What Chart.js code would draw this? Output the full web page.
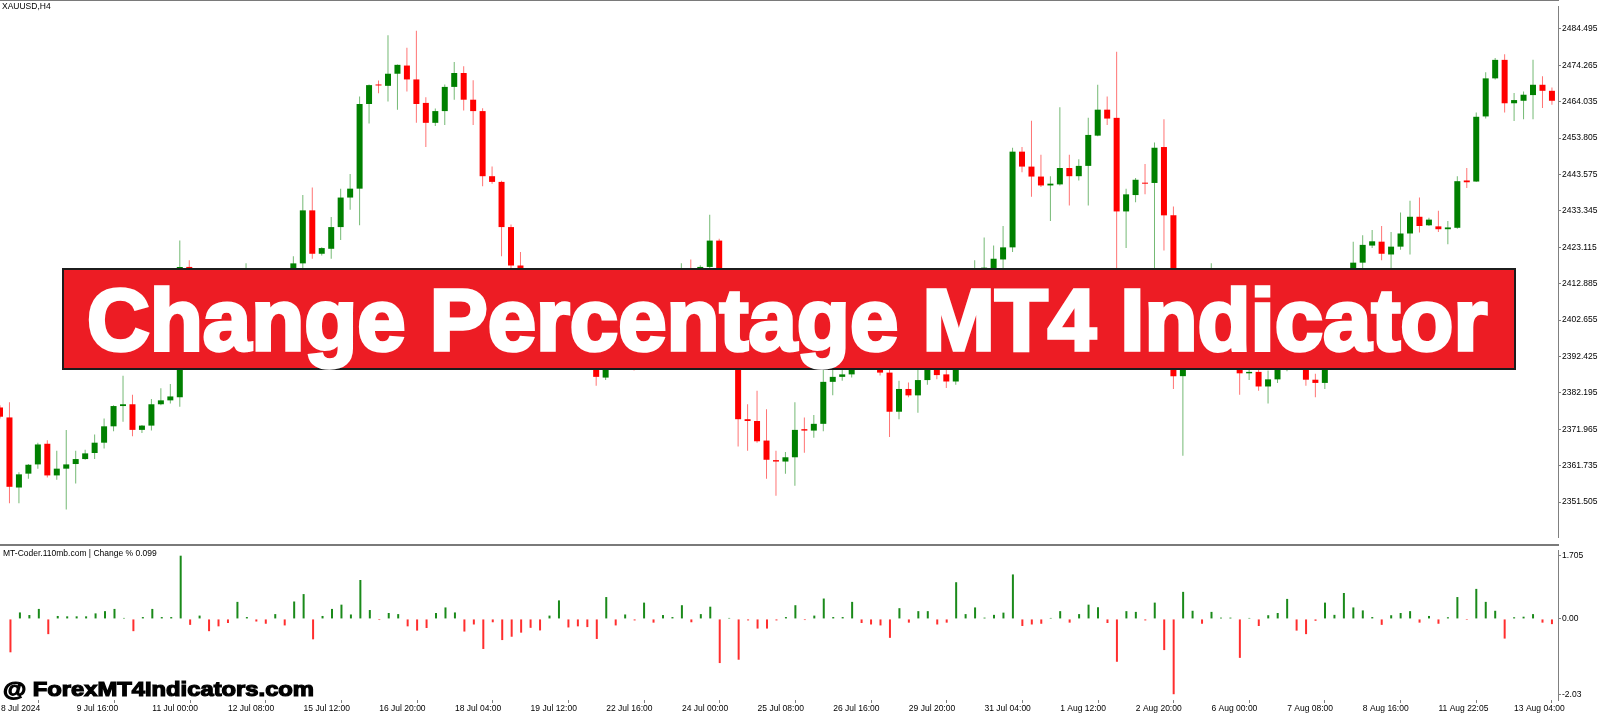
<!DOCTYPE html>
<html>
<head>
<meta charset="utf-8">
<script src="https://cdn.jsdelivr.net/npm/chart.js@4.4.1/dist/chart.umd.min.js"></script>
<style>
  body { margin: 0; width: 1600px; height: 716px; background: #fff; position: relative; overflow: hidden; font-family: "Liberation Sans", Arial, sans-serif; }
  canvas { position: absolute; left: 0; }
  #price { top: 0; }
  #chg { top: 544px; }
  .line { position: absolute; background: #7a7a7a; }
  .small { position: absolute; font-size: 8.5px; line-height: 1; color: #000; white-space: nowrap; }
  #banner { position: absolute; left: 62px; top: 268px; width: 1454px; height: 102px; box-sizing: border-box;
            background: #ed1c24; border: 2px solid #1c1c1c; }
  #bannerText { position: absolute; top: 0; left: 0; color: #fff; font-weight: bold; line-height: 1; white-space: nowrap;
                -webkit-text-stroke: 3.5px #fff; }
  #mark { position: absolute; left: 3px; top: 679px; font-size: 20px; font-weight: bold; line-height: 1; color: #000;
          -webkit-text-stroke: 1.2px #000; white-space: nowrap; transform-origin: 0 0; }
</style>
</head>
<body>
<canvas id="price" width="1600" height="544"></canvas>
<canvas id="chg" width="1600" height="172"></canvas>
<div class="line" style="left:0;top:0;width:1559px;height:1px"></div>
<div class="line" style="left:0;top:544px;width:1559px;height:2px"></div>
<div class="small" style="left:2px;top:2px">XAUUSD,H4</div>
<div class="small" style="left:3px;top:549px">MT-Coder.110mb.com | Change % 0.099</div>
<div id="banner"></div>
<div id="bannerText">Change Percentage MT4 Indicator</div>
<div id="mark">@ ForexMT4Indicators.com</div>
<script>
// XAUUSD H4 candles (index 0 = 8 Jul 2024)
const opens = [
  2378.1, 2375.3, 2355.6, 2359.5, 2362.1, 2367.9, 2359.0, 2360.9, 2362.2, 2363.6,
  2365.3, 2368.2, 2372.8, 2378.5, 2379.0, 2371.8, 2373.0, 2379.0, 2380.1, 2381.0,
  2417.6, 2414.1, 2416.1, 2408.8, 2404.4, 2402.0, 2412.1, 2413.2, 2411.7, 2408.8,
  2411.7, 2408.2, 2418.6, 2433.5, 2421.3, 2422.7, 2428.8, 2437.1, 2439.6, 2463.4,
  2468.7, 2468.5, 2471.9, 2474.2, 2470.3, 2463.7, 2458.1, 2461.4, 2468.2, 2472.1,
  2464.6, 2461.4, 2443.1, 2441.5, 2428.8, 2418.0, 2409.9, 2404.6, 2398.8, 2400.8,
  2411.8, 2406.7, 2402.3, 2398.5, 2386.5, 2399.4, 2395.5, 2398.1, 2397.2, 2406.9,
  2404.7, 2407.0, 2408.1, 2416.3, 2414.7, 2417.6, 2425.0, 2398.6, 2399.0, 2374.8,
  2374.3, 2368.8, 2363.3, 2362.9, 2364.1, 2372.0, 2371.6, 2373.5, 2385.3, 2386.7,
  2387.4, 2397.5, 2395.1, 2391.8, 2387.9, 2376.9, 2383.3, 2381.5, 2385.8, 2390.4,
  2387.4, 2385.4, 2407.1, 2410.0, 2416.6, 2417.2, 2419.7, 2423.1, 2450.0, 2445.8,
  2443.0, 2440.5, 2440.8, 2445.4, 2443.1, 2446.0, 2454.5, 2461.8, 2459.5, 2433.2,
  2437.8, 2441.2, 2441.2, 2451.3, 2432.1, 2386.9, 2402.9, 2407.8, 2404.9, 2409.1,
  2409.9, 2410.7, 2387.7, 2388.1, 2384.0, 2386.0, 2389.5, 2401.4, 2394.5, 2385.9,
  2385.0, 2394.7, 2397.1, 2412.2, 2418.8, 2423.6, 2424.7, 2421.1, 2423.3, 2427.0,
  2431.7, 2429.3, 2429.0, 2428.2, 2428.6, 2441.9, 2441.6, 2459.9, 2470.6, 2475.8,
  2463.6, 2464.3, 2465.9, 2468.8, 2467.1
];
const highs = [
  2378.7, 2379.6, 2359.9, 2362.2, 2368.2, 2368.9, 2365.9, 2371.8, 2365.9, 2366.2,
  2370.5, 2375.0, 2378.7, 2387.0, 2381.7, 2373.2, 2380.5, 2383.5, 2384.7, 2425.0,
  2419.5, 2417.0, 2416.8, 2410.2, 2406.5, 2414.5, 2418.6, 2415.5, 2413.0, 2413.8,
  2413.2, 2420.6, 2437.8, 2439.9, 2423.1, 2431.6, 2439.6, 2443.7, 2465.5, 2468.9,
  2470.0, 2482.7, 2474.5, 2479.2, 2484.0, 2465.3, 2462.1, 2468.9, 2475.2, 2474.0,
  2470.1, 2462.2, 2445.8, 2441.8, 2429.5, 2421.8, 2411.5, 2406.0, 2402.0, 2413.0,
  2413.0, 2408.0, 2403.5, 2399.5, 2401.5, 2401.0, 2400.0, 2399.5, 2409.0, 2408.5,
  2409.5, 2410.5, 2418.6, 2419.7, 2418.1, 2432.3, 2425.5, 2402.5, 2401.5, 2379.0,
  2382.8, 2377.6, 2365.9, 2365.6, 2379.6, 2375.3, 2376.0, 2389.3, 2390.5, 2389.8,
  2400.0, 2398.5, 2397.0, 2393.5, 2391.0, 2385.6, 2385.1, 2390.5, 2393.0, 2392.0,
  2389.5, 2409.5, 2412.5, 2419.5, 2425.9, 2423.6, 2429.1, 2451.1, 2451.3, 2458.7,
  2449.1, 2443.1, 2462.5, 2449.1, 2447.9, 2459.5, 2468.8, 2465.5, 2478.1, 2439.6,
  2442.6, 2446.5, 2452.6, 2459.1, 2434.6, 2406.0, 2411.0, 2410.0, 2418.6, 2412.0,
  2413.0, 2412.5, 2390.0, 2390.2, 2388.5, 2391.5, 2404.0, 2403.0, 2396.0, 2387.6,
  2397.0, 2399.5, 2414.5, 2424.7, 2426.5, 2428.0, 2429.1, 2427.4, 2432.9, 2436.2,
  2437.1, 2431.4, 2433.4, 2430.5, 2443.1, 2445.4, 2461.0, 2472.3, 2476.3, 2477.4,
  2466.5, 2466.9, 2475.8, 2471.2, 2468.0
];
const lows = [
  2375.0, 2351.2, 2351.2, 2358.1, 2360.9, 2358.4, 2357.8, 2349.4, 2356.7, 2363.4,
  2363.6, 2366.6, 2371.4, 2374.1, 2370.0, 2370.9, 2371.6, 2378.7, 2379.2, 2378.3,
  2411.5, 2412.0, 2406.5, 2401.8, 2399.5, 2400.8, 2410.5, 2409.6, 2406.9, 2407.5,
  2405.9, 2406.9, 2417.0, 2419.9, 2420.8, 2419.9, 2425.2, 2433.7, 2429.3, 2457.9,
  2466.4, 2464.1, 2461.8, 2466.9, 2458.1, 2451.3, 2457.2, 2457.5, 2464.6, 2461.6,
  2457.5, 2440.3, 2441.0, 2420.6, 2416.0, 2408.0, 2402.0, 2395.5, 2396.0, 2398.5,
  2404.5, 2400.0, 2396.5, 2384.2, 2385.8, 2393.5, 2394.0, 2388.5, 2396.0, 2402.5,
  2403.0, 2405.5, 2406.5, 2412.0, 2413.0, 2416.0, 2396.0, 2396.5, 2367.1, 2365.9,
  2368.2, 2358.1, 2353.3, 2359.5, 2356.1, 2365.4, 2369.6, 2371.4, 2381.5, 2385.6,
  2386.5, 2388.8, 2390.0, 2387.1, 2369.8, 2374.8, 2381.0, 2376.6, 2384.5, 2386.0,
  2383.6, 2384.5, 2405.5, 2408.5, 2415.0, 2416.8, 2417.2, 2421.8, 2444.2, 2437.3,
  2440.1, 2430.5, 2440.5, 2434.9, 2441.9, 2434.9, 2454.3, 2457.5, 2412.0, 2422.9,
  2435.8, 2438.0, 2413.5, 2422.2, 2383.3, 2364.5, 2400.5, 2402.5, 2403.5, 2407.0,
  2408.0, 2381.7, 2385.8, 2382.8, 2379.2, 2385.0, 2388.3, 2392.5, 2384.2, 2381.0,
  2383.3, 2393.0, 2396.0, 2410.5, 2417.2, 2422.9, 2419.5, 2417.2, 2422.4, 2421.1,
  2427.3, 2429.1, 2427.4, 2424.0, 2428.3, 2439.8, 2441.5, 2459.3, 2470.3, 2461.0,
  2458.6, 2459.1, 2459.1, 2462.3, 2463.2
];
const closes = [
  2375.5, 2355.8, 2359.3, 2362.0, 2367.7, 2359.0, 2360.9, 2362.1, 2363.6, 2365.2,
  2368.2, 2372.8, 2378.5, 2379.0, 2371.8, 2373.0, 2379.0, 2380.1, 2381.2, 2417.6,
  2414.1, 2416.1, 2408.8, 2404.4, 2402.0, 2412.1, 2413.2, 2411.7, 2408.8, 2411.7,
  2408.2, 2418.6, 2433.5, 2421.3, 2422.9, 2428.8, 2437.1, 2439.6, 2463.4, 2468.7,
  2468.6, 2471.9, 2474.4, 2470.3, 2463.4, 2458.1, 2461.4, 2468.2, 2472.1, 2464.6,
  2461.4, 2443.1, 2441.5, 2428.8, 2418.0, 2409.9, 2404.6, 2398.8, 2400.8, 2411.8,
  2406.7, 2402.3, 2398.5, 2386.7, 2399.4, 2395.5, 2398.1, 2397.2, 2406.9, 2404.7,
  2407.0, 2408.1, 2416.3, 2414.7, 2417.6, 2425.0, 2398.6, 2399.0, 2374.8, 2374.3,
  2368.6, 2363.4, 2362.9, 2364.1, 2371.8, 2371.6, 2373.5, 2385.3, 2386.7, 2387.4,
  2397.5, 2395.1, 2391.8, 2387.9, 2376.9, 2383.3, 2381.5, 2385.8, 2390.4, 2387.2,
  2385.4, 2407.1, 2410.0, 2416.6, 2417.4, 2419.9, 2423.1, 2450.0, 2445.8, 2443.0,
  2440.5, 2441.0, 2445.4, 2443.1, 2446.0, 2454.7, 2461.8, 2459.3, 2433.2, 2438.0,
  2442.1, 2441.0, 2451.1, 2432.1, 2386.9, 2402.9, 2407.8, 2404.9, 2409.1, 2409.9,
  2410.7, 2387.7, 2388.1, 2384.0, 2386.0, 2389.5, 2401.4, 2394.5, 2385.9, 2385.0,
  2394.7, 2397.1, 2412.2, 2418.8, 2423.8, 2424.8, 2421.3, 2423.3, 2427.0, 2431.7,
  2429.1, 2430.9, 2428.2, 2428.7, 2441.7, 2441.4, 2459.8, 2470.6, 2475.8, 2463.6,
  2464.5, 2466.0, 2468.8, 2467.1, 2464.3
];
// Change % histogram (lower window)
const changePct = [
  null, -0.90, 0.175, 0.105, 0.27, -0.41, 0.08, 0.07, 0.07, 0.07,
  0.15, 0.21, 0.27, 0.02, -0.33, 0.05, 0.27, 0.05, 0.05, 1.705,
  -0.16, 0.09, -0.33, -0.20, -0.11, 0.46, 0.05, -0.07, -0.13, 0.13,
  -0.175, 0.47, 0.67, -0.55, 0.08, 0.27, 0.385, 0.12, 1.05, 0.24,
  -0.03, 0.16, 0.13, -0.20, -0.315, -0.245, 0.16, 0.31, 0.175, -0.34,
  -0.15, -0.81, -0.09, -0.57, -0.48, -0.37, -0.24, -0.31, 0.09, 0.50,
  -0.23, -0.20, -0.22, -0.54, 0.59, -0.175, 0.12, -0.04, 0.44, -0.10,
  0.105, 0.05, 0.37, -0.09, 0.13, 0.33, -1.19, 0.02, -1.10, -0.04,
  -0.26, -0.26, -0.04, 0.05, 0.37, -0.03, 0.09, 0.55, 0.05, 0.05,
  0.46, -0.11, -0.15, -0.175, -0.51, 0.29, -0.10, 0.21, 0.21, -0.15,
  -0.10, 0.99, 0.13, 0.31, 0.035, 0.11, 0.17, 1.20, -0.19, -0.15,
  -0.13, 0.02, 0.21, -0.10, 0.13, 0.385, 0.315, -0.11, -1.155, 0.21,
  0.19, -0.04, 0.44, -0.84, -2.03, 0.73, 0.22, -0.13, 0.19, 0.035,
  0.035, -1.05, 0.02, -0.19, 0.10, 0.16, 0.54, -0.315, -0.41, -0.05,
  0.44, 0.11, 0.70, 0.31, 0.23, 0.05, -0.16, 0.10, 0.16, 0.21,
  -0.10, 0.08, -0.13, 0.045, 0.59, -0.02, 0.81, 0.46, 0.22, -0.53,
  0.045, 0.06, 0.13, -0.10, -0.14
];
const priceTicks = [2484.495, 2474.265, 2464.035, 2453.805, 2443.575, 2433.345, 2423.115,
  2412.885, 2402.655, 2392.425, 2382.195, 2371.965, 2361.735, 2351.505];
const changeTicks = [1.705, 0, -2.03];
const changeTickText = ['1.705', '0.00', '-2.03'];
const dateLabels = ['8 Jul 2024', '9 Jul 16:00', '11 Jul 00:00', '12 Jul 08:00', '15 Jul 12:00',
  '16 Jul 20:00', '18 Jul 04:00', '19 Jul 12:00', '22 Jul 16:00', '24 Jul 00:00', '25 Jul 08:00',
  '26 Jul 16:00', '29 Jul 20:00', '31 Jul 04:00', '1 Aug 12:00', '2 Aug 20:00', '6 Aug 00:00',
  '7 Aug 08:00', '8 Aug 16:00', '11 Aug 22:05', '13 Aug 04:00'];
const barsPerLabel = 8;

const GREEN = '#008000';
const RED = '#ff0000';
const axisFont = { family: '"Liberation Sans", Arial, sans-serif', size: 8.5 };
const xMax = 164.64;

const idx = opens.map((_, i) => i);
const isUp = i => closes[i] >= opens[i];

function rightAxis(min, max, tickVals, fmt) {
  return {
    position: 'right', min: min, max: max,
    afterFit: s => { s.width = 42; },
    afterBuildTicks: s => { s.ticks = tickVals.map(v => ({ value: v })); },
    ticks: { callback: fmt, font: axisFont, color: '#000', padding: 1 },
    grid: { drawOnChartArea: false, tickLength: 3, color: '#808080' },
    border: { color: '#808080' }
  };
}

new Chart(document.getElementById('price'), {
  type: 'bar',
  data: {
    datasets: [
      {
        data: idx.map(i => ({ x: i, y: [lows[i], highs[i]] })),
        backgroundColor: idx.map(i => isUp(i) ? 'rgba(0,128,0,0.55)' : 'rgba(255,0,0,0.55)'),
        maxBarThickness: 1, grouped: false, order: 2
      },
      {
        data: idx.map(i => ({ x: i, y: [opens[i], closes[i]] })),
        backgroundColor: idx.map(i => isUp(i) ? GREEN : RED),
        maxBarThickness: 6, minBarLength: 1, grouped: false, order: 1
      }
    ]
  },
  options: {
    responsive: false, animation: false, devicePixelRatio: 1,
    layout: { padding: 0 },
    plugins: { legend: { display: false }, tooltip: { enabled: false } },
    scales: {
      x: { type: 'linear', min: 0, max: xMax, offset: false, display: false },
      y: rightAxis(2341.44, 2490.91, priceTicks, v => v.toFixed(3))
    }
  }
});

const chgIdx = idx.filter(i => changePct[i] !== null);
new Chart(document.getElementById('chg'), {
  type: 'bar',
  data: {
    datasets: [{
      data: chgIdx.map(i => ({ x: i, y: changePct[i] })),
      backgroundColor: chgIdx.map(i => changePct[i] >= 0 ? '#1a8a1a' : '#ff2e2e'),
      maxBarThickness: 2, minBarLength: 1, grouped: false
    }]
  },
  options: {
    responsive: false, animation: false, devicePixelRatio: 1,
    layout: { padding: { top: 2 } },
    plugins: { legend: { display: false }, tooltip: { enabled: false } },
    scales: {
      x: {
        type: 'linear', min: 0, max: xMax, offset: false,
        afterFit: s => { s.height = 16; },
        afterBuildTicks: s => { s.ticks = dateLabels.map((t, k) => ({ value: k * barsPerLabel })); },
        ticks: { autoSkip: false, maxRotation: 0, minRotation: 0, align: 'start', padding: 1,
                 callback: (v, k) => dateLabels[k], font: axisFont, color: '#000' },
        grid: { drawOnChartArea: false, tickLength: 3, color: '#808080' },
        border: { display: false }
      },
      y: rightAxis(-2.186, 1.856, changeTicks, (v, k) => changeTickText[k])
    }
  }
});

// fit the banner title and the watermark to the widths they have in the picture
const ctx = document.createElement('canvas').getContext('2d');
const title = document.getElementById('bannerText');
ctx.font = 'bold 100px "Liberation Sans", Arial, sans-serif';
const fs = 100 * 1400 / ctx.measureText(title.textContent).width;
title.style.fontSize = fs.toFixed(1) + 'px';
title.style.left = '87px';
title.style.top = (350 - 0.8465 * fs).toFixed(1) + 'px';

const mark = document.getElementById('mark');
ctx.font = 'bold 20px "Liberation Sans", Arial, sans-serif';
mark.style.transform = 'scaleX(' + (311 / ctx.measureText(mark.textContent).width).toFixed(3) + ')';
</script>
</body>
</html>
